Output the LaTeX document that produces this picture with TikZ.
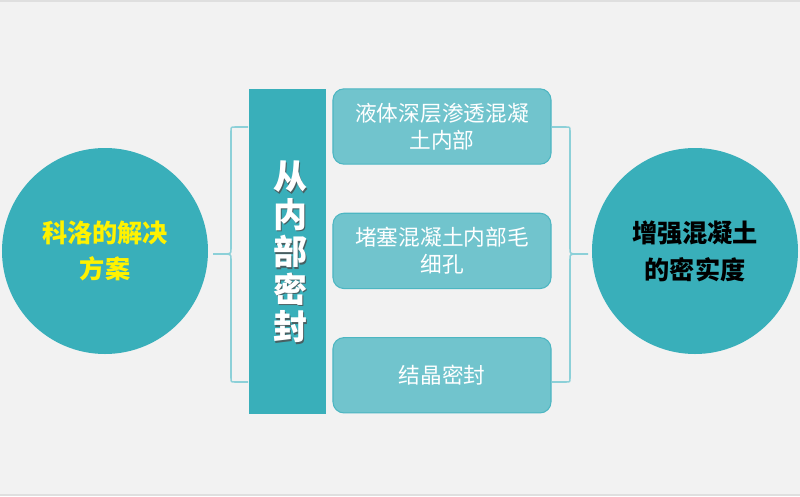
\documentclass[tikz,border=0pt]{standalone}
\usepackage{fontspec}
\setmainfont{Noto Sans CJK SC}
\usepackage{xcolor}
\usetikzlibrary{positioning}
\definecolor{bgpaper}{HTML}{F2F2F2}
\definecolor{tealdark}{HTML}{39AFBA}
\definecolor{teallight}{HTML}{71C4CD}
\definecolor{tealline}{HTML}{4DB6C2}
\definecolor{braceline}{HTML}{8CD0D8}
\tikzset{
    bigcircle/.style={circle, fill=tealdark, minimum size=6.18cm, inner sep=0pt, align=center, font=\fontsize{21.5}{31.5}\selectfont\bfseries},
    sealbar/.style={rectangle, fill=tealdark, minimum width=2.31cm, minimum height=9.75cm, inner sep=0pt},
    sealfont/.style={align=center, font=\fontsize{29}{32}\selectfont\bfseries},
    waybox/.style={rectangle, rounded corners=0.33cm, draw=tealline, line width=0.9pt, fill=teallight, minimum width=6.54cm, minimum height=2.26cm, align=center, text=white, font=\fontsize{18.5}{23}\selectfont},
    bracket/.style={draw=braceline, line width=1.3pt}
}
\begin{document}
\begin{tikzpicture}[x=0.03cm, y=-0.03cm]
    % background
    \fill[bgpaper] (0,0) rectangle (800,496);
    \useasboundingbox (0,0) rectangle (800,496);
    \fill[gray!25] (0,0) rectangle (800,1.5);
    \fill[gray!25] (0,494) rectangle (800,496);

    \node (solution) [bigcircle, text=yellow] at (105,251) {科洛的解决\\方案};
    \node (result) [bigcircle, text=black] at (695,251) {增强混凝土\\的密实度};

    \node (seal) [sealbar] at (287.5,251.5) {};
    \node [sealfont, text=black!70, opacity=0.8] at (291.5,253.5) {从\\内\\部\\密\\封};
    \node (sealtext) [sealfont, text=white] at (290,252) {从\\内\\部\\密\\封};

    \node (liquid) [waybox] at (442,126.5) {液体深层渗透混凝\\土内部};
    \node (block) [waybox, below=1.44cm of liquid] {堵塞混凝土内部毛\\细孔};
    \node (crystal) [waybox, below=1.44cm of block] {结晶密封};

    % left bracket
    \draw[bracket] (248,127) -- (235,127) .. controls (231,127) .. (231,131) -- (231,249)
        .. controls (231,254) .. (222,254) -- (213,254) -- (222,254)
        .. controls (231,254) .. (231,259) -- (231,378) .. controls (231,382) .. (235,382) -- (248,382);
    % right bracket
    \draw[bracket] (552,127) -- (566,127) .. controls (570,127) .. (570,131) -- (570,249)
        .. controls (570,254) .. (579,254) -- (588,254) -- (579,254)
        .. controls (570,254) .. (570,259) -- (570,378) .. controls (570,382) .. (566,382) -- (552,382);
\end{tikzpicture}
\end{document}
